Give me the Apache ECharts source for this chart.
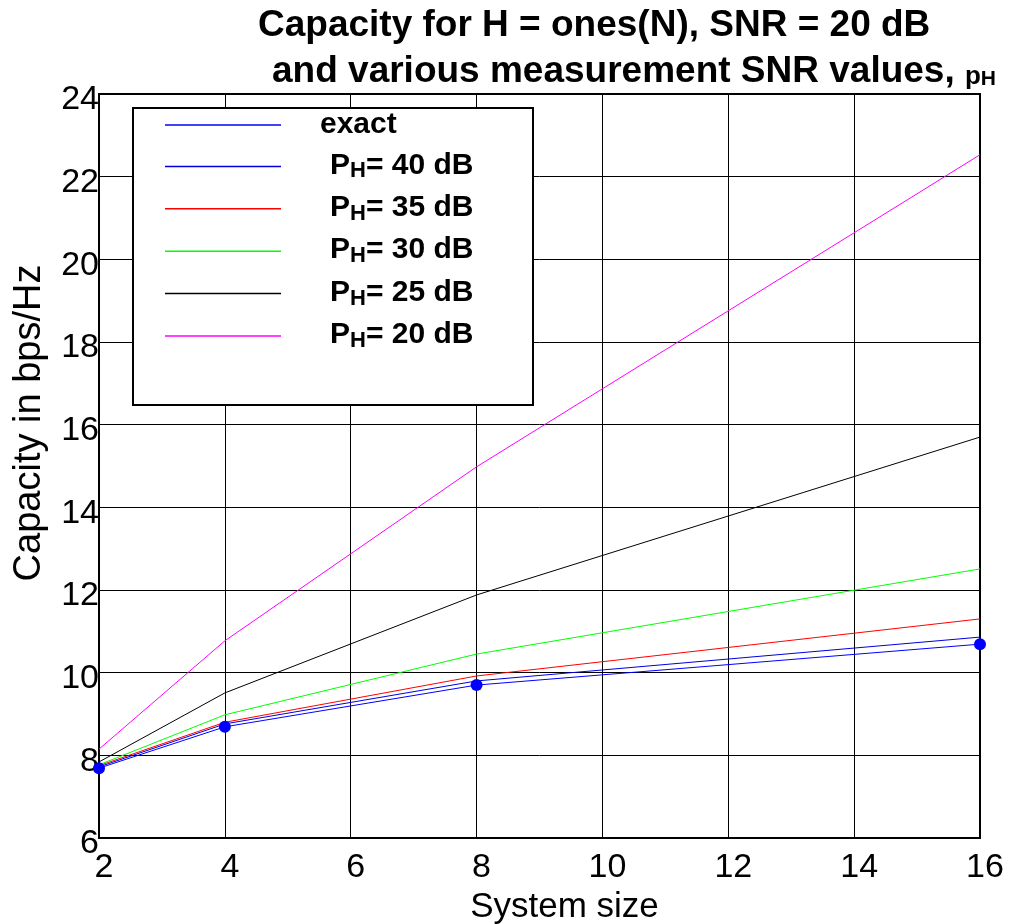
<!DOCTYPE html>
<html>
<head>
<meta charset="utf-8">
<script src="https://cdn.jsdelivr.net/npm/echarts@6/dist/echarts.min.js"></script>
<style>html,body{margin:0;padding:0;background:#fff;}#c{width:1013px;height:924px;}</style>
</head>
<body>
<div id="c"></div>
<script>
const systemSize = [2, 4, 8, 16];
const exact = [7.69, 8.69, 9.70, 10.69];
const ph40 = [7.72, 8.76, 9.80, 10.86];
const ph35 = [7.75, 8.80, 9.92, 11.30];
const ph30 = [7.77, 8.98, 10.45, 12.51];
const ph25 = [7.84, 9.51, 11.88, 15.70];
const ph20 = [8.15, 10.77, 14.98, 22.53];
const seriesNames = ['exact', 'P_H= 40 dB', 'P_H= 35 dB', 'P_H= 30 dB', 'P_H= 25 dB', 'P_H= 20 dB'];
const seriesValues = [exact, ph40, ph35, ph30, ph25, ph20];
const seriesColors = ['#0000ff', '#0000dd', '#ff0000', '#00ff00', '#000000', '#ff00ff'];

const FONT = '"Liberation Sans", Arial, sans-serif';
const chart = echarts.init(document.getElementById('c'));

const series = seriesValues.map((vals, i) => ({
  name: seriesNames[i],
  type: 'line',
  data: systemSize.map((x, j) => [x, vals[j]]),
  showSymbol: i === 0,
  symbol: 'circle',
  symbolSize: 12,
  itemStyle: { color: seriesColors[i] },
  lineStyle: { color: seriesColors[i], width: 1 },
  emphasis: { disabled: true },
  animation: false,
  z: 2
}));

chart.setOption({
  animation: false,
  backgroundColor: '#fff',
  title: [
    { text: 'Capacity for H = ones(N), SNR = 20 dB', left: 258, top: 7, padding: 0,
      textStyle: { fontFamily: FONT, fontSize: 37, fontWeight: 'bold', color: '#000' } },
    { text: 'and various measurement SNR values, {p|p}{s|H}', left: 272, top: 53, padding: 0,
      textStyle: { fontFamily: FONT, fontSize: 37, fontWeight: 'bold', color: '#000', lineHeight: 37,
        rich: {
          p: { fontFamily: FONT, fontSize: 26, fontWeight: 'bold', color: '#000', lineHeight: 28, verticalAlign: 'bottom' },
          s: { fontFamily: FONT, fontSize: 21, fontWeight: 'bold', color: '#000', lineHeight: 25, verticalAlign: 'bottom' }
        } } }
  ],
  grid: { left: 99, right: 33, top: 94, bottom: 86, show: true, borderColor: '#000', borderWidth: 2,
    containLabel: false, outerBoundsMode: 'none' },
  xAxis: {
    type: 'value', min: 2, max: 16, interval: 2,
    name: 'System size', nameLocation: 'middle', nameGap: 50,
    nameTextStyle: { fontFamily: FONT, fontSize: 35, color: '#000', padding: [0, 0, 0, 50] },
    axisLine: { show: true, lineStyle: { color: '#000', width: 2 } },
    axisTick: { show: false },
    axisLabel: { fontFamily: FONT, fontSize: 34, color: '#000', margin: 13, padding: [0, 0, 0, 10] },
    splitLine: { show: true, lineStyle: { color: '#000', width: 1 } }
  },
  yAxis: {
    type: 'value', min: 6, max: 24, interval: 2,
    name: 'Capacity in bps/Hz', nameLocation: 'middle', nameGap: 50,
    nameTextStyle: { fontFamily: FONT, fontSize: 38, color: '#000', padding: [0, 0, 0, 86] },
    axisLine: { show: true, lineStyle: { color: '#000', width: 2 } },
    axisTick: { show: false },
    axisLabel: { fontFamily: FONT, fontSize: 34, color: '#000', margin: 0, verticalAlign: 'top', lineHeight: 12 },
    splitLine: { show: true, lineStyle: { color: '#000', width: 1 } }
  },
  graphic: [
    { type: 'rect', z: 5, shape: { x: 133, y: 108, width: 400, height: 297 },
      style: { fill: '#fff', stroke: '#000', lineWidth: 2 } }
  ],
  legend: {
    z: 10,
    orient: 'vertical', left: 165, top: 110, padding: 0,
    itemWidth: 116, itemHeight: 1.5, itemGap: 10.4, icon: 'rect',
    selectedMode: false,
    data: seriesNames,
    formatter: function (name) {
      if (name === 'exact') return '{gx| }{e|exact}';
      const rest = name.split('_H')[1];
      return '{gp| }{r|P}{h|H}{r|' + rest + '}';
    },
    textStyle: {
      color: '#000', fontFamily: FONT, fontSize: 30, fontWeight: 'bold',
      rich: {
        gx: { width: 34, lineHeight: 32 },
        gp: { width: 44, lineHeight: 32 },
        e: { fontFamily: FONT, fontSize: 30, fontWeight: 'bold', color: '#000', lineHeight: 28, verticalAlign: 'middle' },
        r: { fontFamily: FONT, fontSize: 30, fontWeight: 'bold', color: '#000', lineHeight: 26, verticalAlign: 'top' },
        h: { fontFamily: FONT, fontSize: 22, fontWeight: 'bold', color: '#000', lineHeight: 20, verticalAlign: 'bottom' }
      }
    }
  },
  series: series
});
</script>
</body>
</html>
